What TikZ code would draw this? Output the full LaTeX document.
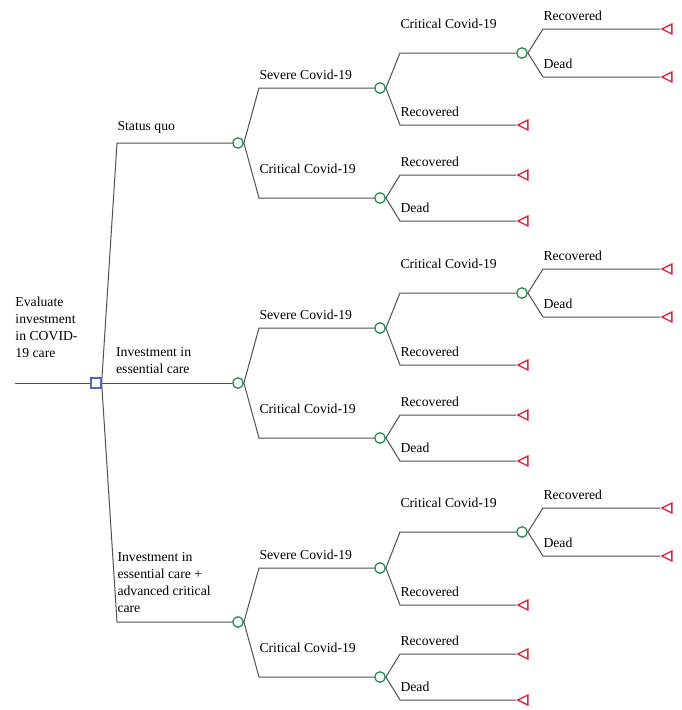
\documentclass[tikz,border=0pt]{standalone}
\usepackage{fontspec}
\setmainfont{Liberation Serif}
\usetikzlibrary{shapes.geometric}

\definecolor{branchgray}{RGB}{80,80,80}
\definecolor{chancegreen}{RGB}{40,140,80}
\definecolor{termred}{RGB}{220,40,60}
\definecolor{decblue}{RGB}{70,110,190}

\tikzset{
	every node/.style={font=\fontsize{13.7}{17}\selectfont},
	decision/.style={rectangle, draw=decblue, line width=1.3pt, fill=white, minimum size=10pt, inner sep=0pt},
	chance/.style={circle, draw=chancegreen, line width=1.3pt, fill=white, minimum size=10.5pt, inner sep=0pt},
	terminal/.style={isosceles triangle, isosceles triangle stretches, shape border rotate=180, draw=termred, line width=1.4pt, minimum width=10pt, minimum height=10pt, inner sep=0pt, anchor=apex},
	lab/.style={anchor=base west, inner sep=0pt, yshift=9pt},
	labhigh/.style={anchor=base west, inner sep=0pt, yshift=25pt},
	blocklab/.style={anchor=south west, inner sep=0pt, align=left, yshift=9pt},
	branch/.style={draw=branchgray, line width=1pt}
}

\begin{document}
\begin{tikzpicture}[x=1pt, y=-1pt]
		\useasboundingbox (0,0) rectangle (681,710);
		
		% Draw the decision node
		\coordinate (root) at (15,383);
		\node[decision] (dec) at (96,383) {};
		\draw[branch] (root) -- (dec.west) node[blocklab, pos=0, yshift=16pt] {Evaluate\\investment\\in COVID-\\19 care};
		
		% Draw the chance and terminal nodes, status quo
		\node[chance] (A1) at (238,143) {};
		\node[chance] (S1) at (380,88) {};
		\node[chance] (C1) at (380,198) {};
		\node[chance] (SC1) at (522,53) {};
		\node[terminal] (SR1) at (516,125) {};
		\node[terminal] (SCR1) at (660,29) {};
		\node[terminal] (SCD1) at (660,77) {};
		\node[terminal] (CR1) at (516,175) {};
		\node[terminal] (CD1) at (516,221) {};
		
		% Draw the chance and terminal nodes, essential care
		\node[chance] (A2) at (238,383) {};
		\node[chance] (S2) at (380,328) {};
		\node[chance] (C2) at (380,438) {};
		\node[chance] (SC2) at (522,293) {};
		\node[terminal] (SR2) at (516,365) {};
		\node[terminal] (SCR2) at (660,269) {};
		\node[terminal] (SCD2) at (660,317) {};
		\node[terminal] (CR2) at (516,415) {};
		\node[terminal] (CD2) at (516,461) {};
		
		% Draw the chance and terminal nodes, advanced critical care
		\node[chance] (A3) at (238,622) {};
		\node[chance] (S3) at (380,568) {};
		\node[chance] (C3) at (380,677) {};
		\node[chance] (SC3) at (522,532) {};
		\node[terminal] (SR3) at (516,605) {};
		\node[terminal] (SCR3) at (660,508) {};
		\node[terminal] (SCD3) at (660,556) {};
		\node[terminal] (CR3) at (516,654) {};
		\node[terminal] (CD3) at (516,700) {};
		
		% Draw the strategy branches
		\draw[branch] (dec.east) -- (117,143) node[blocklab] {Status quo} -- (A1.west);
		\draw[branch] (dec.east) -- (A2.west) node[blocklab, pos=0, xshift=14pt] {Investment in\\essential care};
		\draw[branch] (dec.east) -- (117,622) node[blocklab] {Investment in\\essential care +\\advanced critical\\care} -- (A3.west);
		
		% Draw the branches, status quo
		\draw[branch] (A1.east) -- (259,88) node[lab] {Severe Covid-19} -- (S1.west);
		\draw[branch] (A1.east) -- (259,198) node[labhigh] {Critical Covid-19} -- (C1.west);
		\draw[branch] (S1.east) -- (400,53) node[labhigh] {Critical Covid-19} -- (SC1.west);
		\draw[branch] (S1.east) -- (400,125) node[lab] {Recovered} -- (SR1.apex);
		\draw[branch] (SC1.east) -- (543,29) node[lab] {Recovered} -- (SCR1.apex);
		\draw[branch] (SC1.east) -- (543,77) node[lab] {Dead} -- (SCD1.apex);
		\draw[branch] (C1.east) -- (400,175) node[lab] {Recovered} -- (CR1.apex);
		\draw[branch] (C1.east) -- (400,221) node[lab] {Dead} -- (CD1.apex);
		
		% Draw the branches, essential care
		\draw[branch] (A2.east) -- (259,328) node[lab] {Severe Covid-19} -- (S2.west);
		\draw[branch] (A2.east) -- (259,438) node[labhigh] {Critical Covid-19} -- (C2.west);
		\draw[branch] (S2.east) -- (400,293) node[labhigh] {Critical Covid-19} -- (SC2.west);
		\draw[branch] (S2.east) -- (400,365) node[lab] {Recovered} -- (SR2.apex);
		\draw[branch] (SC2.east) -- (543,269) node[lab] {Recovered} -- (SCR2.apex);
		\draw[branch] (SC2.east) -- (543,317) node[lab] {Dead} -- (SCD2.apex);
		\draw[branch] (C2.east) -- (400,415) node[lab] {Recovered} -- (CR2.apex);
		\draw[branch] (C2.east) -- (400,461) node[lab] {Dead} -- (CD2.apex);
		
		% Draw the branches, advanced critical care
		\draw[branch] (A3.east) -- (259,568) node[lab] {Severe Covid-19} -- (S3.west);
		\draw[branch] (A3.east) -- (259,677) node[labhigh] {Critical Covid-19} -- (C3.west);
		\draw[branch] (S3.east) -- (400,532) node[labhigh] {Critical Covid-19} -- (SC3.west);
		\draw[branch] (S3.east) -- (400,605) node[lab] {Recovered} -- (SR3.apex);
		\draw[branch] (SC3.east) -- (543,508) node[lab] {Recovered} -- (SCR3.apex);
		\draw[branch] (SC3.east) -- (543,556) node[lab] {Dead} -- (SCD3.apex);
		\draw[branch] (C3.east) -- (400,654) node[lab] {Recovered} -- (CR3.apex);
		\draw[branch] (C3.east) -- (400,700) node[lab] {Dead} -- (CD3.apex);
		
		% Redraw the nodes on top
		\node[decision] at (dec) {};
	\end{tikzpicture}
\end{document}
